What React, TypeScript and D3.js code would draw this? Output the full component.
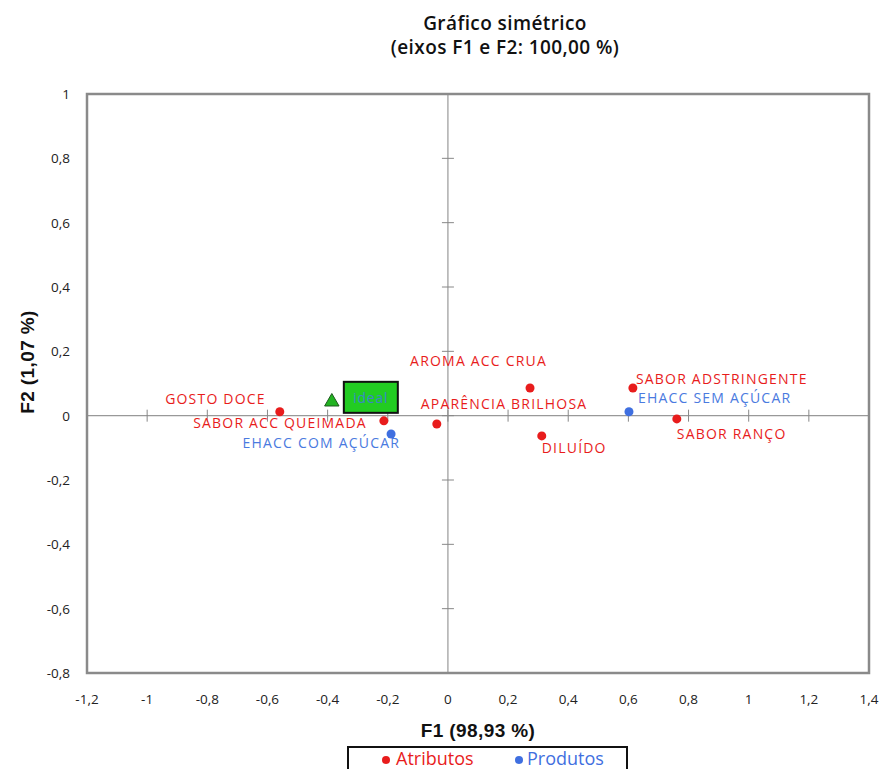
import React from 'react';
import * as d3 from 'd3';

// attributes (red) and products (blue), coordinates on F1 / F2
const atributos = ['GOSTO DOCE', 'SABOR ACC QUEIMADA', 'APARÊNCIA BRILHOSA', 'AROMA ACC CRUA', 'DILUÍDO', 'SABOR ADSTRINGENTE', 'SABOR RANÇO'];
const atributosF1 = [-0.559, -0.213, -0.037, 0.273, 0.312, 0.615, 0.761];
const atributosF2 = [0.012, -0.016, -0.026, 0.086, -0.063, 0.086, -0.01];

const produtos = ['EHACC COM AÇÚCAR', 'EHACC SEM AÇÚCAR'];
const produtosF1 = [-0.189, 0.602];
const produtosF2 = [-0.057, 0.012];

const idealF1 = -0.386;
const idealF2 = 0.043;

const xTickValues = [-1.2, -1, -0.8, -0.6, -0.4, -0.2, 0, 0.2, 0.4, 0.6, 0.8, 1, 1.2, 1.4];
const yTickValues = [-0.8, -0.6, -0.4, -0.2, 0, 0.2, 0.4, 0.6, 0.8, 1];

// where each label sits relative to its point
const labelPos: Record<string, [string, number, number]> = {
  'GOSTO DOCE': ['end', -14, -13],
  'SABOR ACC QUEIMADA': ['end', -17, 2],
  'APARÊNCIA BRILHOSA': ['start', -16, -21],
  'AROMA ACC CRUA': ['end', 17, -28],
  'DILUÍDO': ['start', 0, 12],
  'SABOR ADSTRINGENTE': ['start', 3, -10],
  'SABOR RANÇO': ['start', 0, 15],
  'EHACC COM AÇÚCAR': ['end', 9, 8],
  'EHACC SEM AÇÚCAR': ['start', 9, -14],
};

const width = 882;
const height = 769;
const margin = { left: 87, right: 13, top: 94, bottom: 96 };

const RED = '#e81c1c';
const BLUE = '#3f6fe0';
const LABEL_FONT = '"Open Sans", sans-serif';
const ARIAL = '"Liberation Sans", Arial, sans-serif';

const fmt = (v: number) => String(v).replace('.', ',');

const App = () => {
  const x = d3.scaleLinear().domain([-1.2, 1.4]).range([margin.left, width - margin.right]);
  const y = d3.scaleLinear().domain([-0.8, 1]).range([height - margin.bottom, margin.top]);

  const x0 = x(0);
  const y0 = y(0);
  const tri = d3.symbol().type(d3.symbolTriangle).size(90)();

  const label = (name: string, px: number, py: number, color: string) => {
    const [anchor, dx, dy] = labelPos[name];
    return (
      <text key={'t' + name} x={px + dx} y={py + dy} textAnchor={anchor as any} dominantBaseline="central"
        fill={color} fontSize={14} fontFamily={LABEL_FONT} letterSpacing={1.2}>{name}</text>
    );
  };

  return (
    <svg width={width} height={height} style={{ position: 'absolute', left: 0, top: 0, background: '#fff' }}>
      {/* title */}
      <text x={505} y={23} textAnchor="middle" dominantBaseline="central" fontFamily={LABEL_FONT} fontWeight={600} fontSize={19} letterSpacing={0.4} fill="#111">Gráfico simétrico</text>
      <text x={505} y={47} textAnchor="middle" dominantBaseline="central" fontFamily={LABEL_FONT} fontWeight={600} fontSize={19} letterSpacing={0.4} fill="#111">(eixos F1 e F2: 100,00 %)</text>

      {/* zero axes */}
      <line x1={x0} x2={x0} y1={y(1)} y2={y(-0.8)} stroke="#999" strokeWidth={1.2} />
      <line x1={x(-1.2)} x2={x(1.4)} y1={y0} y2={y0} stroke="#999" strokeWidth={1.2} />
      {xTickValues.map(v => (
        <line key={'xt' + v} x1={x(v)} x2={x(v)} y1={y0 - 6} y2={y0 + 6} stroke="#888" strokeWidth={1} />
      ))}
      {yTickValues.map(v => (
        <line key={'yt' + v} x1={x0 - 6} x2={x0 + 6} y1={y(v)} y2={y(v)} stroke="#888" strokeWidth={1} />
      ))}

      {/* frame */}
      <rect x={x(-1.2)} y={y(1)} width={x(1.4) - x(-1.2)} height={y(-0.8) - y(1)} fill="none" stroke="#8a8a8a" strokeWidth={2.5} />

      {/* tick labels */}
      {xTickValues.map(v => (
        <text key={'xl' + v} x={x(v)} y={699} textAnchor="middle" dominantBaseline="central" fontSize={13.5}
          fontFamily={LABEL_FONT} fill="#222">{fmt(v)}</text>
      ))}
      {yTickValues.map(v => (
        <text key={'yl' + v} x={70} y={y(v)} textAnchor="end" dominantBaseline="central" fontSize={13.5}
          fontFamily={LABEL_FONT} fill="#222">{fmt(v)}</text>
      ))}

      {/* axis titles */}
      <text x={478} y={730} textAnchor="middle" dominantBaseline="central" fontSize={19} fontWeight="bold"
        letterSpacing={0.4} fontFamily={ARIAL} fill="#111">F1 (98,93 %)</text>
      <text transform={`translate(27,362) rotate(-90)`} textAnchor="middle" dominantBaseline="central" fontSize={19}
        fontWeight="bold" letterSpacing={0.4} fontFamily={ARIAL} fill="#111">F2 (1,07 %)</text>

      {/* ideal point */}
      <path d={tri!} transform={`translate(${x(idealF1)},${y(idealF2)})`} fill="#22b322" stroke="#1d5a1d" strokeWidth={1} />
      <rect x={x(idealF1) + 12} y={y(idealF2) - 20} width={54} height={31} fill="#22cc22" stroke="#111" strokeWidth={2} />
      <text x={x(idealF1) + 39} y={y(idealF2) - 4} textAnchor="middle" dominantBaseline="central" fontSize={14}
        letterSpacing={0.8} fontFamily={LABEL_FONT} fill="#3a86c8">ideal</text>

      {/* attributes */}
      {atributos.map((n, i) => (
        <circle key={'a' + n} cx={x(atributosF1[i])} cy={y(atributosF2[i])} r={4.5} fill={RED} />
      ))}
      {atributos.map((n, i) => label(n, x(atributosF1[i]), y(atributosF2[i]), RED))}

      {/* products */}
      {produtos.map((n, i) => (
        <circle key={'p' + n} cx={x(produtosF1[i])} cy={y(produtosF2[i])} r={4.5} fill={BLUE} />
      ))}
      {produtos.map((n, i) => label(n, x(produtosF1[i]), y(produtosF2[i]), '#4a7ae0'))}

      {/* legend */}
      <rect x={348} y={747} width={279} height={40} fill="#fff" stroke="#111" strokeWidth={2} />
      <circle cx={386} cy={760} r={4} fill={RED} />
      <text x={396} y={758} dominantBaseline="central" fontSize={18} fontFamily={LABEL_FONT} fill={RED}>Atributos</text>
      <circle cx={519} cy={760} r={4} fill={BLUE} />
      <text x={527} y={758} dominantBaseline="central" fontSize={18} fontFamily={LABEL_FONT} fill={BLUE}>Produtos</text>
    </svg>
  );
};

export default App;
